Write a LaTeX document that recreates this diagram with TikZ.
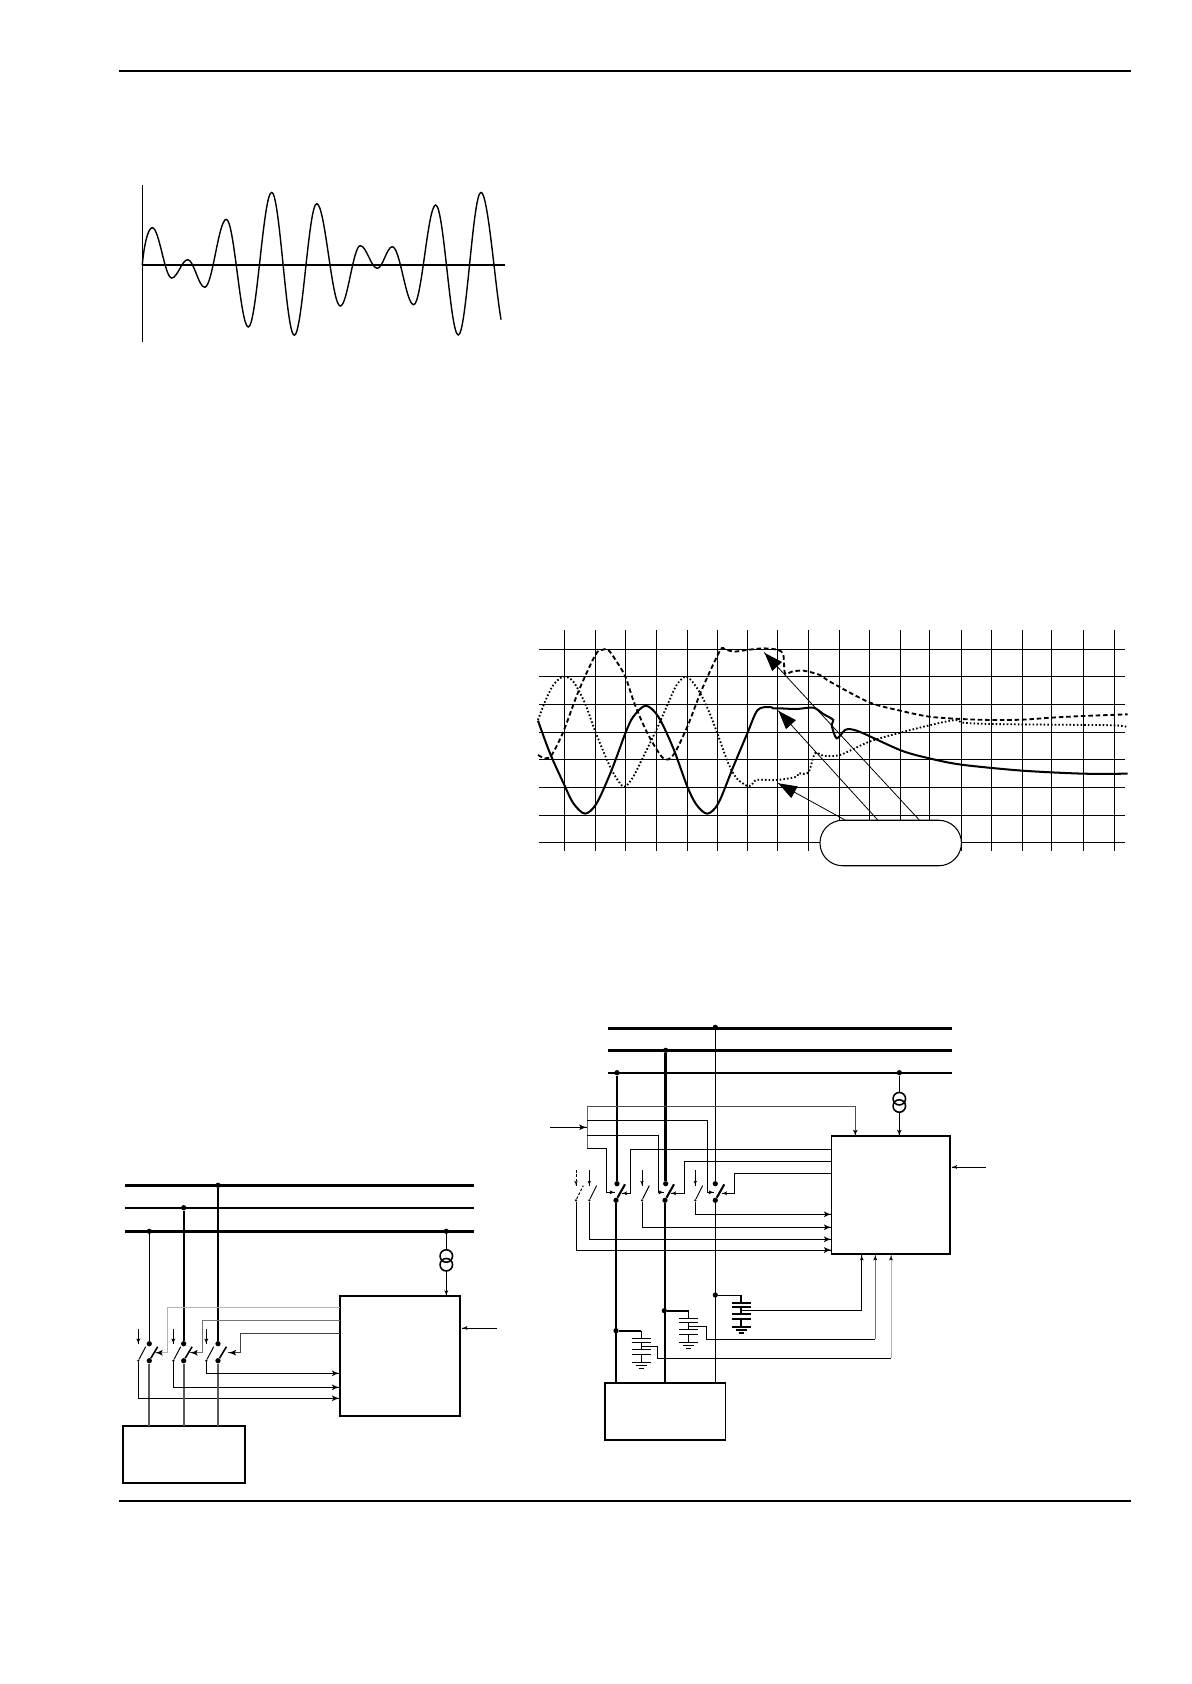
\documentclass[tikz,border=0pt]{standalone}
\usepackage{tikz}
\usetikzlibrary{arrows}
\usetikzlibrary{arrows.meta}
\usetikzlibrary{decorations.markings}
\usetikzlibrary{shapes.misc}
\tikzset{tipped/.style = {decoration={markings,
                                      mark=at position 1 with {\arrow[scale=#1, black]{latex'}}},
                          postaction={decorate}},
         tipped/.default = 1}
\tikzset{pointer/.style = {decoration={markings,
                                       mark=at position 1 with {\arrow{Triangle[length=10.5pt, width=7.5pt]}}},
                           postaction={decorate}}}
\tikzset{wire/.style = {line width=0.55pt}}
\tikzset{trace/.style = {line width=1.05pt}}
\tikzset{auxdash/.style = {dash pattern=on 1.5pt off 1pt}}
\tikzset{jdot/.style = {circle, fill, inner sep=0pt, minimum size=3pt}}
\tikzset{auxdot/.style = {circle, fill, inner sep=0pt, minimum size=1.4pt}}
\tikzset{unitbox/.style = {draw, line width=1pt, inner sep=0pt, outer sep=0pt}}
\tikzset{vtcoil/.style = {draw, circle, line width=0.9pt, inner sep=0pt, outer sep=0pt, minimum size=0.25cm}}
\tikzset{wave/.style = {line width=0.8pt, line cap=round}}
\tikzset{capdiv/.pic = {
    \coordinate (-top) at (0, 0);
    \coordinate (-out) at (0, 15.5);
    \draw (0, 0) -- (0, 7.7);
    \draw (-9.5, 7.7) -- (9.5, 7.7);
    \draw (-9.5, 12) -- (9.5, 12);
    \draw (0, 12) -- (0, 19);
    \draw (-9.5, 19) -- (9.5, 19);
    \draw (-9.5, 24) -- (9.5, 24);
    \draw (0, 24) -- (0, 32);
    \draw (-9.5, 32) -- (9.5, 32);
    \draw (-5.5, 35) -- (5.5, 35);
    \draw (-2.5, 38) -- (2.5, 38);
}}

\begin{document}
\begin{tikzpicture}[x=0.02cm, y=-0.02cm]
    \useasboundingbox (0, 0) rectangle (1191, 1684);
    % page rules
    \draw [line width=1pt] (119, 70.7) -- (1131, 70.7);
    \draw [line width=1pt] (119, 1501) -- (1131, 1501);

    % top left waveform
    \draw [line width=0.6pt] (142.3, 185) -- (142.3, 342);
    \draw [line width=1pt] (142.3, 265) -- (505, 265);
    \draw [wave] (142.3, 265) .. controls (144, 245) and (148, 227.7) .. (152.3, 227.7);
    \foreach \x/\y [remember=\x as \xp (initially 152.3), remember=\y as \yp (initially 227.7)] in
        {171.7/278, 187.7/259.7, 204.7/287.3, 226.3/219.3, 248.3/327, 271.7/192.3, 294.3/335.3,
         316.7/203.7, 340.3/306, 360.3/245.7, 377.3/268.3, 392.3/246.7, 413.7/304.7, 435.7/205,
         458.3/335, 481/192.3}
        \draw [wave] (\xp, \yp) .. controls ({\xp + 0.36*(\x - \xp)}, \yp) and ({\x - 0.36*(\x - \xp)}, \y) .. (\x, \y);
    \draw [wave] (481, 192.3) .. controls (488, 192.3) and (495, 285) .. (501, 319.3);

    % chart grid
    \foreach \y in {649.3, 676.3, 704.3, 732.3, 759.3, 787.3, 815.3, 842.3}
        \draw [wire] (539, \y) -- (1125, \y);
    \foreach \x in {564.3, 595.3, 625.3, 656.3, 687.3, 717.3, 747.3, 777.3, 808.3, 839.3, 869.3, 900.3,
                    929.3, 961.3, 991.7, 1022.3, 1051.3, 1083.3, 1114.3}
        \draw [wire] (\x, 630) -- (\x, 850.7);

    % chart traces, given in a 3x frame
    \begin{scope}[shift={(530, 620)}, scale=0.3333]
        \draw [line width=1.15pt] plot [smooth] coordinates {(24, 302) (60, 400) (103, 495) (130, 550) (165, 581)
            (200, 550) (245, 450) (286, 340) (310, 290) (347, 257) (385, 290) (430, 385) (472, 500) (500, 555)
            (532, 581) (565, 550) (610, 440) (652, 340) (683, 270) (720, 261) (730, 265) (750, 265) (800, 267)
            (850, 263) (880, 282) (910, 300) (905, 315) (920, 355) (945, 330) (965, 328) (1000, 340) (1115, 392)
            (1198, 415) (1294, 434) (1477, 452) (1660, 461) (1793, 461)};
        \draw [trace, dash pattern=on 2.6pt off 1.6pt] plot [smooth] coordinates {(24, 405) (45, 415) (65, 405) (100, 335)
            (145, 215) (196, 105) (215, 90) (235, 90) (260, 125) (286, 170) (315, 255) (355, 345) (400, 415) (430, 405)
            (472, 320) (515, 210) (570, 92) (585, 88) (610, 95) (650, 90) (700, 85) (745, 90) (760, 105) (765, 160)
            (785, 155) (820, 152) (870, 165) (900, 185) (1018, 247) (1111, 272) (1198, 290) (1294, 297) (1385, 300)
            (1477, 299) (1564, 293) (1660, 288) (1793, 283)};
        \draw [trace, dash pattern=on 0.9pt off 1.2pt] plot [smooth] coordinates {(24, 300) (45, 245) (70, 195) (100, 170)
            (130, 185) (165, 250) (196, 335) (240, 440) (270, 490) (286, 500) (310, 470) (340, 410) (379, 330) (410, 260)
            (440, 195) (470, 170) (505, 210) (535, 270) (562, 340) (595, 430) (620, 475) (650, 497) (665, 495) (680, 480)
            (742, 480) (800, 470) (805, 460) (835, 458) (855, 400) (880, 407) (930, 405) (1018, 365) (1111, 338)
            (1198, 316) (1275, 300) (1300, 308) (1385, 312) (1564, 314) (1753, 316) (1795, 322)};
    \end{scope}

    % chart callout
    \node [draw, rounded rectangle, fill=white, line width=0.6pt, inner sep=0pt, outer sep=0pt,
           minimum width=2.83cm, minimum height=0.91cm] (callout) at (890.7, 843) {};
    \coordinate (calla) at (845, 820);
    \coordinate (callb) at (877.7, 820);
    \coordinate (callc) at (919.3, 820);
    \coordinate (tipa) at (778.3, 783.3);
    \coordinate (tipb) at (778.3, 710.7);
    \coordinate (tipc) at (764, 652.3);
    \draw [line width=0.45pt, pointer] (calla) -- (tipa);
    \draw [line width=0.45pt, pointer] (callb) -- (tipb);
    \draw [line width=0.45pt, pointer] (callc) -- (tipc);

    % lower left scheme
    \foreach \y/\w in {1185.3/1.5pt, 1207.7/1pt, 1231.3/1.4pt}
        \draw [line width=\w] (125, \y) -- (474, \y);
    \node [unitbox, minimum width=2.41cm, minimum height=2.4cm] (lrelay) at (400, 1355.7) {};
    \node [unitbox, minimum width=2.45cm, minimum height=1.15cm] (lgen) at (184, 1454.5) {};
    \foreach \n/\x/\ybus/\w/\xaux/\yret in {a/149.3/1231.3/0.6pt/138.3/1398.3,
                                            b/183.7/1207.7/1.2pt/173.3/1387.3,
                                            c/218/1185.3/1.2pt/206.3/1373.3} {
        \node [jdot] (ltap\n) at (\x, \ybus) {};
        \node [jdot] (lup\n) at (\x, 1343.7) {};
        \node [jdot] (ldn\n) at (\x, 1360.7) {};
        \node [auxdot] (laux\n) at (\xaux, 1360.7) {};
        \coordinate (lcmd\n) at (\xaux, 1329.3);
        \coordinate (lin\n) at (339.7, \yret);
        \draw [line width=\w] (ltap\n) -- (lup\n);
        \draw [line width=1.2pt, black!65] (ldn\n) -- (ldn\n |- lgen.north);
        \draw [line width=0.9pt] (ldn\n) -- ++(8.4, -14);
        \draw [wire] (laux\n) -- ++(7.4, -14);
        \draw [wire, tipped=0.7] (lcmd\n) -- ++(0, 14.7);
        \draw [wire, tipped] (laux\n) |- (lin\n);
    }
    \draw [wire, black!30, tipped] (339.7, 1307.7) -| (167.3, 1352.7) -- (155, 1352.7);
    \draw [wire, black!55, tipped] (339.7, 1320.7) -| (202.3, 1352.7) -- (190, 1352.7);
    \draw [wire, black!75, tipped] (339.7, 1333.3) -| (240, 1352.7) -- (228.3, 1352.7);
    \node [jdot] (ltapv) at (446.3, 1231.3) {};
    \node [vtcoil] (lvta) at (446.3, 1256) {};
    \node [vtcoil] (lvtb) at (446.3, 1264.7) {};
    \draw [wire] (ltapv) -- (lvta);
    \draw [wire, tipped=0.7] (lvtb) -- (lvtb |- lrelay.north);
    \coordinate (lext) at (497, 1328);
    \draw [wire, tipped=0.7] (lext) -- (462, 1328);

    % lower right scheme
    \foreach \y/\w in {1028.3/1.7pt, 1050.3/1.7pt, 1072.7/1.2pt}
        \draw [line width=\w] (608, \y) -- (952, \y);
    \node [unitbox, minimum width=2.37cm, minimum height=2.36cm] (rrelay) at (890.85, 1195) {};
    \node [unitbox, minimum width=2.41cm, minimum height=1.15cm] (rgen) at (665.15, 1411.5) {};
    \foreach \n/\xt/\ybus/\xb/\w in {a/617/1072.7/616/1.4pt, b/665.7/1050.3/665/1.5pt, c/715.3/1027.3/715.3/0.7pt} {
        \node [jdot] (rtap\n) at (\xt, \ybus) {};
        \node [jdot] (rup\n) at (\xt, 1183.7) {};
        \node [jdot] (rdn\n) at (\xb, 1200.3) {};
        \draw [line width=\w] (rtap\n) -- (rup\n);
        \draw [line width=\w] (rdn\n) -- (rdn\n |- rgen.north);
        \draw [line width=1.2pt] (rdn\n) -- ++(9, -16);
    }
    % auxiliary contacts
    \foreach \n/\x/\yret/\d in {d/576/1250/auxdash, e/589.3/1239.3/solid, f/642/1227.3/solid, g/695.3/1214.3/solid} {
        \node [auxdot] (raux\n) at (\x, 1200.3) {};
        \coordinate (rcmd\n) at (\x, 1170);
        \coordinate (rin\n) at (831.7, \yret);
        \draw [wire, \d] (raux\n) -- ++(7.3, -14.7);
        \draw [wire, \d, tipped=0.6] (rcmd\n) -- ++(0, 15.5);
        \draw [wire, tipped] (raux\n) |- (rin\n);
    }
    % trip feed and returns
    \coordinate (rext) at (550, 1127.3);
    \coordinate (rbar) at (587, 1127.3);
    \draw [wire, tipped] (rext) -- (rbar);
    \draw [wire, black!60] (587, 1106.3) -- (587, 1148);
    \draw [wire, black!70, tipped=0.8] (587, 1106.3) -| (855.3, 1136);
    \foreach \y/\xturn/\xend in {1148/606.7/615, 1135.3/658.7/664, 1120.3/707.3/714}
        \draw [wire, tipped=0.7] (587, \y) -| (\xturn, 1192.3) -- (\xend, 1192.3);
    \foreach \y/\xturn/\xend in {1149.3/630.7/621.7, 1161.3/684.3/670.7, 1173.3/734.3/721.7}
        \draw [wire, tipped=0.7] (rrelay.west |- 0, \y) -| (\xturn, 1193.3) -- (\xend, 1193.3);
    \node [jdot] (rtapv) at (899.3, 1072.7) {};
    \node [vtcoil] (rvta) at (899.3, 1098.7) {};
    \node [vtcoil] (rvtb) at (899.3, 1106) {};
    \draw [wire] (rtapv) -- (rvta);
    \draw [wire, tipped=0.8] (rvtb) -- (rvtb |- rrelay.north);
    \coordinate (rextb) at (986, 1167);
    \draw [wire, tipped=0.7] (rextb) -- (951.7, 1167);
    % capacitive dividers
    \node [jdot] (rjoina) at (616, 1330.7) {};
    \node [jdot] (rjoinb) at (664.3, 1310.7) {};
    \node [jdot] (rjoinc) at (715.3, 1295) {};
    \pic (rcapa) [line width=0.5pt] at (641, 1330.7) {capdiv};
    \pic (rcapb) [line width=0.85pt] at (688.7, 1310.7) {capdiv};
    \pic (rcapc) [line width=1pt] at (741, 1295) {capdiv};
    \draw [line width=1pt] (rjoina) -- (rcapa-top);
    \draw [line width=1pt] (rjoinb) -- (rcapb-top);
    \draw [wire] (rjoinc) -- (rcapc-top);
    \draw [wire] (rcapa-out) -| (657.3, 1358.3) -- (891, 1358.3);
    \draw [wire] (rcapb-out) -| (706.3, 1339.3) -- (875.3, 1339.3);
    \draw [wire] (rcapc-out) -- (861.7, 1310.5);
    \draw [wire, black!30, tipped=0.7] (891, 1358.3) -- (891, 1255);
    \draw [wire, black!55, tipped=0.7] (875.3, 1339.3) -- (875.3, 1255);
    \draw [wire, tipped=0.7] (861.7, 1310.5) -- (861.7, 1255);
\end{tikzpicture}
\end{document}
